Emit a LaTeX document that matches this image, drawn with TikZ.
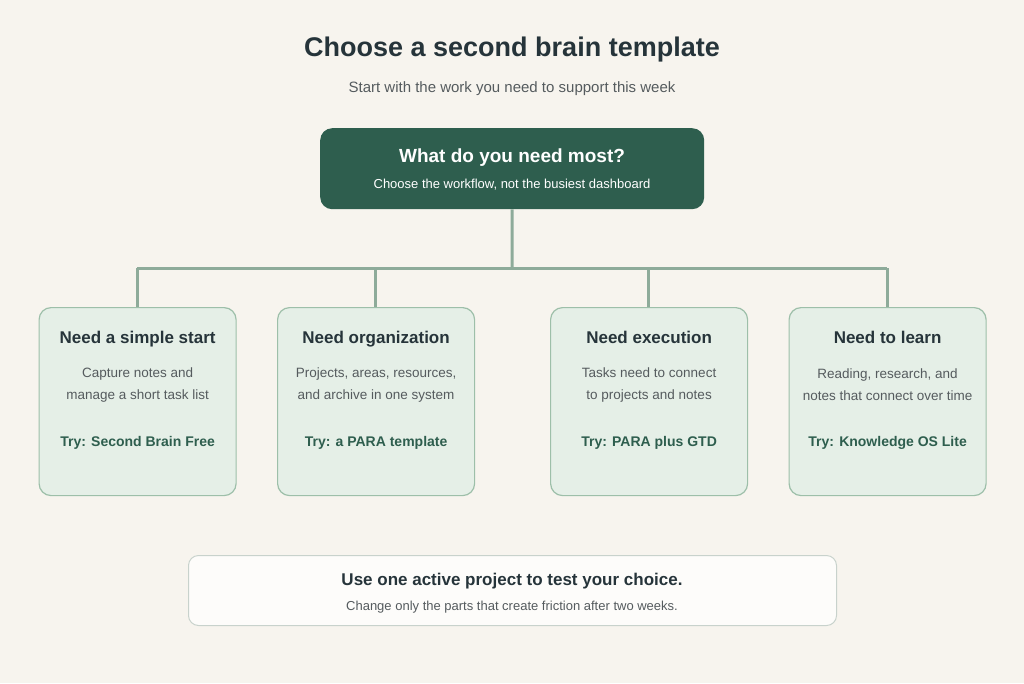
\documentclass[tikz,border=0pt]{standalone}
\usepackage{fontspec}
\setmainfont{Liberation Sans}
\begin{document}
\definecolor{bg}{HTML}{F7F4EE}
\definecolor{ink}{HTML}{26343A}
\definecolor{grey}{HTML}{555B5E}
\definecolor{dgreen}{HTML}{2E5E4E}
\definecolor{lgreen}{HTML}{E5EFE7}
\definecolor{bord}{HTML}{9DBFA9}
\definecolor{conn}{HTML}{8EAB9A}
\begin{tikzpicture}[x=1pt,y=-1pt,
  card/.style={draw=bord,line width=1.2pt,fill=lgreen,rounded corners=12pt,minimum width=197pt,minimum height=188pt,anchor=north west},
  ctitle/.style={font=\fontsize{17}{20}\selectfont\bfseries,text=ink,text height=0.72em,text depth=0.22em},
  cbody/.style={font=\fontsize{13.5}{22}\selectfont,text=grey,align=center},
  ctry/.style={font=\fontsize{14}{17}\selectfont\bfseries,text=dgreen,text height=0.72em,text depth=0.22em},
  link/.style={draw=conn,line width=3pt}]
\fill[bg] (0,0) rectangle (1024,683);
\useasboundingbox (0,0) rectangle (1024,683);
\node[font=\fontsize{27}{32}\selectfont\bfseries,text=ink] (title) at (512,50) {Choose a second brain template};
\node[font=\fontsize{15}{18}\selectfont,text=grey] (sub) at (512,89) {Start with the work you need to support this week};
\node[fill=dgreen,rounded corners=12pt,minimum width=384pt,minimum height=81pt,anchor=north west] (top) at (320,128) {};
\node[font=\fontsize{19}{22}\selectfont\bfseries,text=white] (topt) at (512,158) {What do you need most?};
\node[font=\fontsize{13}{16}\selectfont,text=white] (tops) at (512,185) {Choose the workflow, not the busiest dashboard};
\coordinate (j) at (512,268);
\coordinate (l) at (137,268);
\coordinate (r) at (887,268);
\node[card] (c1) at (38.5,307) {};
\node[card] (c2) at (277,307) {};
\node[card] (c3) at (550,307) {};
\node[card] (c4) at (788.5,307) {};
\draw[link] (top.south) -- (j);
\draw[link] (l) -- (r);
\coordinate (d2) at (375,268);
\coordinate (d3) at (648,268);
\draw[link] (l) -- (c1.north-|l);
\draw[link] (d2) -- (c2.north-|d2);
\draw[link] (d3) -- (c3.north-|d3);
\draw[link] (r) -- (c4.north-|r);
\foreach \c/\t/\b/\y in {c1/Need a simple start/{Capture notes and\\manage a short task list}/Try: Second Brain Free,
  c2/Need organization/{Projects, areas, resources,\\and archive in one system}/Try: a PARA template,
  c3/Need execution/{Tasks need to connect\\to projects and notes}/Try: PARA plus GTD,
  c4/Need to learn/{Reading, research, and\\notes that connect over time}/Try: Knowledge OS Lite}{
  \node[ctitle] (\c t) at ([yshift=-34]\c.north) {\t};
  \node[cbody] (\c b) at ([yshift=-78]\c.north) {\b};
  \node[ctry] (\c y) at ([yshift=-137]\c.north) {\y};
}
\node[draw=bord!60!gray!50,line width=1pt,fill=white!70!bg,rounded corners=10pt,minimum width=648pt,minimum height=70pt,anchor=north west] (bot) at (188,555) {};
\node[font=\fontsize{17}{20}\selectfont\bfseries,text=ink] (bott) at (512,581) {Use one active project to test your choice.};
\node[font=\fontsize{13}{16}\selectfont,text=grey] (bots) at (512,607) {Change only the parts that create friction after two weeks.};
\end{tikzpicture}
\end{document}
